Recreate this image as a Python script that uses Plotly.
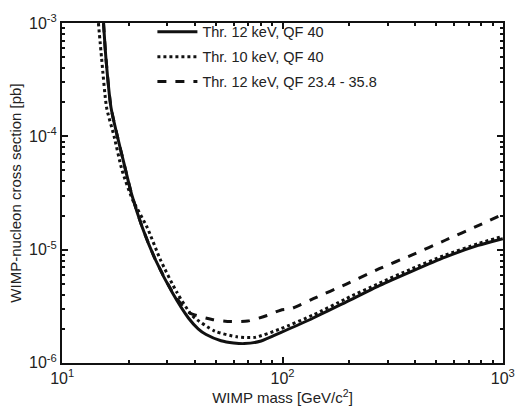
import plotly.graph_objects as go

# Solid: Thr. 12 keV, QF 40
mass_a = [15.4, 15.8, 16.65, 17.8, 18.9, 20.7, 23.1, 26.5, 31.5, 37.4, 41.4, 45, 52.6, 60, 67, 80, 98,
          138, 195, 275, 388, 548, 773, 1000]
sig_a = [1e-3, 4.84e-4, 1.80e-4, 1.0e-4, 6.2e-5, 3.04e-5, 1.57e-5, 8.14e-6, 4.22e-6, 2.49e-6, 2.0e-6,
         1.78e-6, 1.57e-6, 1.50e-6, 1.48e-6, 1.56e-6, 1.85e-6, 2.49e-6, 3.46e-6, 4.81e-6, 6.47e-6,
         8.59e-6, 1.09e-5, 1.25e-5]

# Dotted: Thr. 10 keV, QF 40
mass_b = [14.6, 15.1, 15.9, 17.2, 18.7, 20.8, 24.3, 27.9, 33.1, 39, 49.2, 62, 75, 98, 138, 195, 275,
          388, 548, 773, 1000]
sig_b = [1e-3, 4.84e-4, 1.8e-4, 1e-4, 5.0e-5, 2.8e-5, 1.57e-5, 8.14e-6, 4.22e-6, 2.6e-6, 1.91e-6,
         1.70e-6, 1.68e-6, 2.0e-6, 2.65e-6, 3.7e-6, 5.05e-6, 6.8e-6, 8.95e-6, 1.13e-5, 1.31e-5]

# Dashed: Thr. 12 keV, QF 23.4 - 35.8
mass_c = [15.4, 15.8, 16.65, 17.8, 18.9, 20.7, 23.1, 26.5, 31.5, 37.4, 47.9, 58, 69.5, 85, 98, 110,
          138, 195, 275, 388, 548, 773, 1000]
sig_c = [1e-3, 4.84e-4, 1.80e-4, 1.0e-4, 6.2e-5, 3.04e-5, 1.57e-5, 8.14e-6, 4.3e-6, 2.8e-6, 2.42e-6,
         2.32e-6, 2.34e-6, 2.62e-6, 2.92e-6, 3.02e-6, 3.69e-6, 4.97e-6, 6.78e-6, 9.0e-6, 1.21e-5,
         1.63e-5, 2.05e-5]

labels = ["Thr. 12 keV, QF 40", "Thr. 10 keV, QF 40", "Thr. 12 keV, QF 23.4 - 35.8"]
dashes = ["solid", "dot", "dash"]

x_tickvals = [10, 100, 1000]
x_ticktext = ["10<sup>1</sup>", "10<sup>2</sup>", "10<sup>3</sup>"]
y_tickvals = [1e-6, 1e-5, 1e-4, 1e-3]
y_ticktext = ["10<sup>-6</sup>", "10<sup>-5</sup>", "10<sup>-4</sup>", "10<sup>-3</sup>"]

FONT = "Liberation Sans, Arial, sans-serif"
INK = "#111111"
TXT = "#222222"

fig = go.Figure()
for i, (m, s) in enumerate([(mass_a, sig_a), (mass_b, sig_b), (mass_c, sig_c)]):
    fig.add_trace(go.Scatter(
        x=m, y=s, mode="lines", name=labels[i], legendgroup=str(i),
        line=dict(color=INK, width=3, dash=dashes[i], shape="spline", smoothing=0.6),
    ))

axis_common = dict(
    type="log", showgrid=False, zeroline=False,
    showline=True, linecolor=INK, linewidth=2, mirror="allticks",
    ticks="inside", ticklen=6, tickwidth=1.5, tickcolor=INK,
    minor=dict(ticks="inside", ticklen=3, tickcolor=INK, dtick="D1", showgrid=False),
    tickfont=dict(family=FONT, size=16, color=TXT),
)

fig.update_xaxes(range=[0.999, 3.001], tickmode="array", tickvals=x_tickvals, ticktext=x_ticktext,
                 title=dict(text="WIMP mass [GeV/c<sup>2</sup>]",
                            font=dict(family=FONT, size=15, color=TXT), standoff=2),
                 **axis_common)
fig.update_yaxes(range=[-6.001, -2.999], tickmode="array", tickvals=y_tickvals, ticktext=y_ticktext,
                 title=dict(text="WIMP-nucleon cross section [pb]",
                            font=dict(family=FONT, size=15, color=TXT), standoff=4),
                 **axis_common)

fig.update_layout(
    width=527, height=412,
    margin=dict(l=62, r=19, t=13, b=49),
    paper_bgcolor="white", plot_bgcolor="white",
    showlegend=True,
    legend=dict(x=0.205, y=1.021, xanchor="left", yanchor="top",
                bgcolor="rgba(0,0,0,0)", font=dict(family=FONT, size=14.5, color=TXT),
                tracegroupgap=3, itemwidth=40),
)

fig.write_html(
    "out.html",
    config={"displayModeBar": False},
    post_script="document.documentElement.style.margin='0';document.body.style.margin='0';"
                "document.body.style.overflow='hidden';",
)
